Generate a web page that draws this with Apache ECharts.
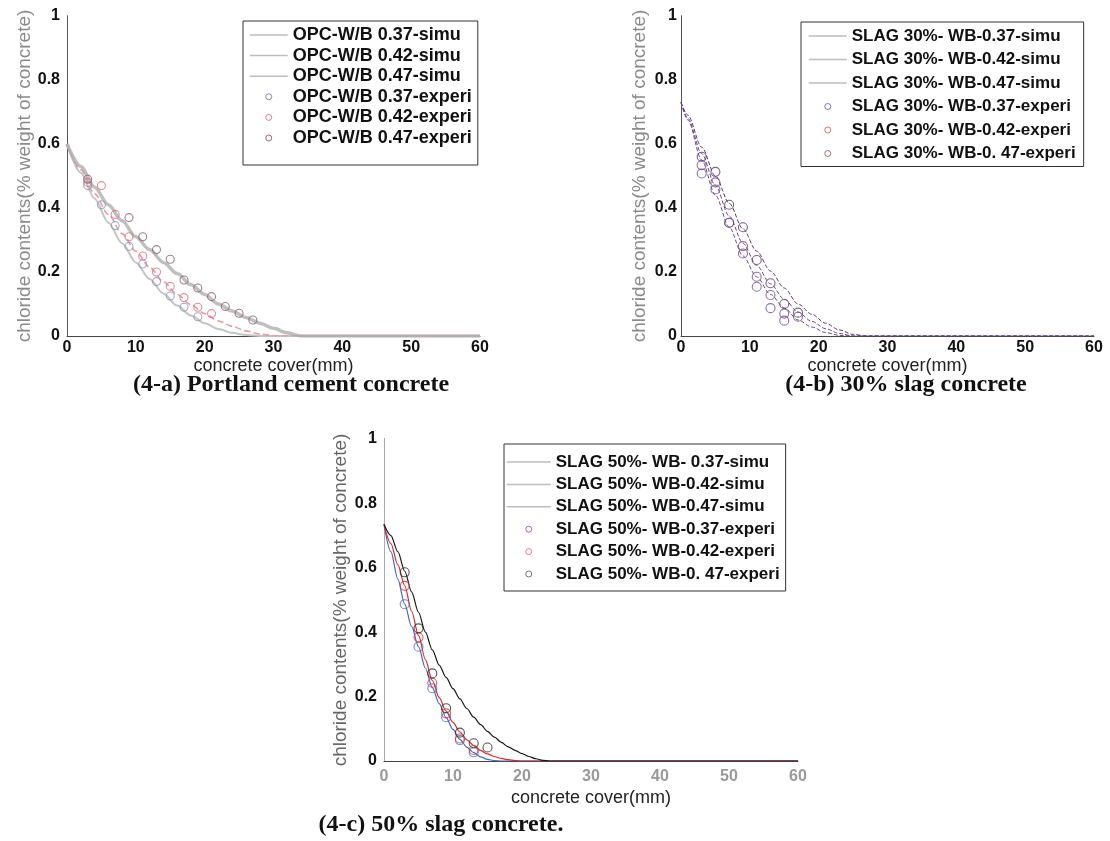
<!DOCTYPE html>
<html>
<head>
<meta charset="utf-8">
<script src="https://cdn.jsdelivr.net/npm/echarts@6/dist/echarts.min.js"></script>
<style>html,body{margin:0;padding:0;background:#fff}#c{width:1110px;height:841px}</style>
</head>
<body>
<div id="c"></div>
<script>
// ---------- Panel (4-a) Portland cement concrete ----------
const simuCoverA = [0,2,4,6,8,10,12,14,16,18,20,22,24,26,28,30,32,34,60];
const opcSimu037 = [0.60,0.51,0.43,0.355,0.29,0.23,0.178,0.133,0.095,0.064,0.04,0.022,0.01,0.003,0,0,0,0,0];
const opcSimu042 = [0.60,0.52,0.445,0.38,0.32,0.265,0.215,0.17,0.13,0.098,0.07,0.047,0.03,0.016,0.006,0.001,0,0,0];
const opcSimu047 = [0.60,0.53,0.465,0.41,0.36,0.31,0.27,0.23,0.195,0.16,0.13,0.10,0.078,0.058,0.04,0.024,0.01,0,0];
const opcExpCover037 = [3,5,7,9,11,13,15,17,19];
const opcExp037 = [0.47,0.41,0.345,0.28,0.225,0.17,0.125,0.09,0.06];
const opcExpCover042 = [3,5,7,9,11,13,15,17,19,21];
const opcExp042 = [0.48,0.47,0.38,0.31,0.25,0.2,0.155,0.12,0.09,0.07];
const opcExpCover047 = [3,9,11,13,15,17,19,21,23,25,27];
const opcExp047 = [0.49,0.37,0.31,0.27,0.24,0.175,0.15,0.123,0.092,0.071,0.05];

// ---------- Panel (4-b) 30% slag concrete ----------
const simuCoverB = [0,1,3,5,7,9,11,13,15,17,19,21,23,25,27,60];
const slag30Simu037 = [0.73,0.675,0.55,0.44,0.34,0.25,0.185,0.13,0.088,0.05,0.028,0.011,0.002,0,0,0];
const slag30Simu042 = [0.73,0.68,0.57,0.47,0.375,0.29,0.22,0.163,0.115,0.075,0.046,0.023,0.008,0,0,0];
const slag30Simu047 = [0.73,0.69,0.59,0.50,0.415,0.335,0.265,0.203,0.15,0.10,0.068,0.04,0.019,0.005,0,0];
const slag30ExpCover037 = [3,5,7,9,11,13,15];
const slag30Exp037 = [0.508,0.458,0.354,0.258,0.154,0.087,0.048];
const slag30ExpCover042 = [3,5,7,9,11,13,15,17];
const slag30Exp042 = [0.534,0.48,0.354,0.281,0.185,0.128,0.07,0.06];
const slag30ExpCover047 = [3,5,7,9,11,13,15,17];
const slag30Exp047 = [0.56,0.513,0.41,0.34,0.2375,0.165,0.10,0.073];

// ---------- Panel (4-c) 50% slag concrete ----------
const simuCoverC = [0,1,2,3,4,5,6,7,8,9,10,11,12,13,14,15,16,17,18,19,20,21,22,23,24,60];
const slag50Simu037 = [0.735,0.65,0.565,0.487,0.418,0.355,0.288,0.228,0.178,0.135,0.098,0.067,0.043,0.026,0.013,0.005,0.001,0,0,0,0,0,0,0,0,0];
const slag50Simu042 = [0.735,0.675,0.61,0.545,0.465,0.39,0.315,0.25,0.197,0.155,0.12,0.09,0.066,0.048,0.033,0.022,0.014,0.008,0.004,0.001,0,0,0,0,0,0];
const slag50Simu047 = [0.735,0.70,0.65,0.59,0.525,0.462,0.40,0.345,0.298,0.26,0.225,0.193,0.163,0.136,0.113,0.092,0.074,0.058,0.044,0.033,0.023,0.014,0.007,0.002,0,0];
const slag50ExpCover037 = [3,5,7,9,11,13];
const slag50Exp037 = [0.487,0.355,0.226,0.136,0.065,0.027];
const slag50ExpCover042 = [3,5,7,9,11,13];
const slag50Exp042 = [0.544,0.384,0.243,0.148,0.07,0.034];
const slag50ExpCover047 = [3,5,7,9,11,13,15];
const slag50Exp047 = [0.586,0.412,0.272,0.164,0.088,0.055,0.042];

// ---------- Ticks / labels ----------
const coverTicks = [0,10,20,30,40,50,60];
const chlorideTicks = [0,0.2,0.4,0.6,0.8,1];
const xAxisTitle = 'concrete cover(mm)';
const yAxisTitle = 'chloride contents(% weight of concrete)';
const captions = ['(4-a) Portland cement concrete', '(4-b) 30% slag concrete', '(4-c) 50% slag concrete.'];

const namesA = ['OPC-W/B 0.37-simu','OPC-W/B 0.42-simu','OPC-W/B 0.47-simu','OPC-W/B 0.37-experi','OPC-W/B 0.42-experi','OPC-W/B 0.47-experi'];
const namesB = ['SLAG 30%- WB-0.37-simu','SLAG 30%- WB-0.42-simu','SLAG 30%- WB-0.47-simu','SLAG 30%- WB-0.37-experi','SLAG 30%- WB-0.42-experi','SLAG 30%- WB-0. 47-experi'];
const namesC = ['SLAG 50%- WB- 0.37-simu','SLAG 50%- WB-0.42-simu','SLAG 50%- WB-0.47-simu','SLAG 50%- WB-0.37-experi','SLAG 50%- WB-0.42-experi','SLAG 50%- WB-0. 47-experi'];

function zip(xs, ys){ return xs.map((x,i)=>[x, ys[i]]); }

const SANS = '"Liberation Sans", Arial, sans-serif';
const SERIF = '"Liberation Serif", "Times New Roman", serif';

const grids = [
  {left:67, top:16, width:413, height:320},
  {left:681, top:16, width:413, height:320},
  {left:384, top:439, width:414, height:322}
];

function xAx(gi, labelColor, nameGap, labelMargin){
  return {
    type:'value', gridIndex:gi, min:0, max:60, interval:10,
    axisLine:{show:true, onZero:false, lineStyle:{color:'#444', width:1}},
    axisTick:{show:false}, splitLine:{show:false},
    axisLabel:{margin:labelMargin, color:labelColor, fontFamily:SANS, fontWeight:'bold', fontSize:16,
      formatter:v=>coverTicks.includes(v)?String(v):''},
    name:xAxisTitle, nameLocation:'middle', nameGap:nameGap,
    nameTextStyle:{fontFamily:SANS, fontSize:18, color:'#222'}
  };
}
function yAx(gi, nameColor, nameGap, labelMargin){
  return {
    type:'value', gridIndex:gi, min:0, max:1, interval:0.2,
    axisLine:{show:true, onZero:false, lineStyle:{color:'#222', width:1}},
    axisTick:{show:false}, splitLine:{show:false},
    axisLabel:{margin:labelMargin, color:'#111', fontFamily:SANS, fontWeight:'bold', fontSize:16,
      formatter:v=>{ const t = chlorideTicks.find(c=>Math.abs(c-v)<1e-9); return t===undefined?'':String(t); }},
    name:yAxisTitle, nameLocation:'middle', nameGap:nameGap, nameRotate:90,
    nameTextStyle:{fontFamily:SANS, fontSize:19, color:nameColor}
  };
}
function yRight(gi, color){
  return {type:'value', gridIndex:gi, position:'right', min:0, max:1,
    axisLine:{show:true, lineStyle:{color:color, width:1}}, axisTick:{show:false},
    axisLabel:{show:false}, splitLine:{show:false}};
}

function simu(name, xi, yi, xs, ys, color, width, type, opacity){
  return {name, type:'line', xAxisIndex:xi, yAxisIndex:yi, data:zip(xs,ys),
    showSymbol:false, symbol:'none', smooth:0.3, smoothMonotone:'x', z:2,
    lineStyle:{color, width, type:type||'solid', opacity:opacity==null?1:opacity}, itemStyle:{color}};
}
function expr(name, xi, yi, xs, ys, color, size){
  return {name, type:'scatter', xAxisIndex:xi, yAxisIndex:yi, data:zip(xs,ys),
    symbol:'circle', symbolSize:size, z:3,
    itemStyle:{color:'rgba(0,0,0,0)', borderColor:color, borderWidth:1.1}};
}

const series = [
  simu(namesA[0],0,0,simuCoverA,opcSimu037,'#c4c4c4',2),
  simu(namesA[1],0,0,simuCoverA,opcSimu042,'#e99aa6',1.6,'dashed'),
  simu(namesA[2],0,0,simuCoverA,opcSimu047,'#a9a9a9',3.5,'solid',0.75),
  expr(namesA[3],0,0,opcExpCover037,opcExp037,'#8a9aae',8),
  expr(namesA[4],0,0,opcExpCover042,opcExp042,'#d9707f',8),
  expr(namesA[5],0,0,opcExpCover047,opcExp047,'#8a6070',8),

  simu(namesB[0],1,2,simuCoverB,slag30Simu037,'#6a4a8a',1,'dashed'),
  simu(namesB[1],1,2,simuCoverB,slag30Simu042,'#6a4a8a',1,'dashed'),
  simu(namesB[2],1,2,simuCoverB,slag30Simu047,'#5a3a70',1,'dashed'),
  expr(namesB[3],1,2,slag30ExpCover037,slag30Exp037,'#6a4f96',9),
  expr(namesB[4],1,2,slag30ExpCover042,slag30Exp042,'#7a4a8a',9),
  expr(namesB[5],1,2,slag30ExpCover047,slag30Exp047,'#5d3a6e',9),

  simu(namesC[0],2,4,simuCoverC,slag50Simu037,'#3d6cc0',1.2),
  simu(namesC[1],2,4,simuCoverC,slag50Simu042,'#e0262a',1.2),
  simu(namesC[2],2,4,simuCoverC,slag50Simu047,'#1a1a1a',1.2),
  expr(namesC[3],2,4,slag50ExpCover037,slag50Exp037,'#4b6fc4',9),
  expr(namesC[4],2,4,slag50ExpCover042,slag50Exp042,'#e03838',9),
  expr(namesC[5],2,4,slag50ExpCover047,slag50Exp047,'#2a2a2a',9)
];

function legendData(names, markerColors){
  return names.map((n,i)=> i<3
    ? {name:n, lineStyle:{color:'#bdbdbd', width:1.5, opacity:1, type:'solid'},
       itemStyle:{color:'rgba(0,0,0,0)', borderColor:'rgba(0,0,0,0)', borderWidth:0, opacity:0}}
    : {name:n, itemStyle:{color:'rgba(0,0,0,0)', borderColor:markerColors[i-3], borderWidth:1}});
}
function legend(names, markerColors, left, top, pad, itemW, fs, lh, gap){
  return {
    data:legendData(names, markerColors), orient:'vertical', left, top, padding:pad,
    itemWidth:itemW, itemHeight:6, itemGap:gap, selectedMode:false,
    borderColor:'#333', borderWidth:1, backgroundColor:'#fff',
    textStyle:{fontFamily:SANS, fontWeight:'bold', fontSize:fs, lineHeight:lh, color:'#111'}
  };
}

const option = {
  animation:false,
  backgroundColor:'#fff',
  grid: grids.map(g=>Object.assign({outerBoundsMode:'none', containLabel:false}, g)),
  xAxis: [xAx(0,'#111',16,4), xAx(1,'#111',16,4), xAx(2,'#999',28,8)],
  yAxis: [yAx(0,'#8a8a8a',32,7), yRight(0,'#555'), yAx(1,'#8a8a8a',32,4), yRight(1,'#555'), yAx(2,'#666',34,7), yRight(2,'#aaa')],
  legend: [
    legend(namesA, ['#7a6a9a','#d9606a','#8a4050'], 243, 21, [5,6,18,6], 38, 18, 18, 2.6),
    legend(namesB, ['#6a4fb0','#e05050','#8a4a50'], 801, 22, [4,8,3,7], 38, 17, 20, 3.5),
    legend(namesC, ['#8a4a9a','#e06070','#555'], 504, 444, [8,6,7,2], 44, 17, 20, 2.4)
  ],
  series,
  graphic: [
    {type:'text', x:291, y:385, style:{text:captions[0], font:'bold 24px '+SERIF, fill:'#111', align:'center', verticalAlign:'middle'}},
    {type:'text', x:906, y:385, style:{text:captions[1], font:'bold 24px '+SERIF, fill:'#111', align:'center', verticalAlign:'middle'}},
    {type:'text', x:441, y:825, style:{text:captions[2], font:'bold 24px '+SERIF, fill:'#111', align:'center', verticalAlign:'middle'}}
  ]
};

const chart = echarts.init(document.getElementById('c'), null, {renderer:'canvas'});
chart.setOption(option);
</script>
</body>
</html>
